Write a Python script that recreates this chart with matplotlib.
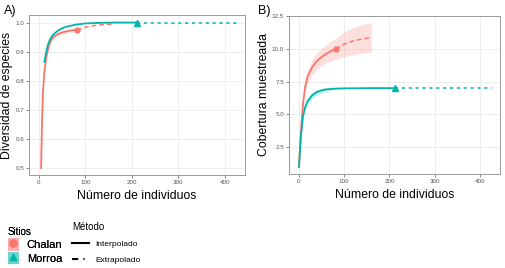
import matplotlib.pyplot as plt
from matplotlib.lines import Line2D
from matplotlib.patches import Patch

# colores de los sitios
col_chalan = '#F8766D'
col_morroa = '#00B5AA'

# ---- Panel A: diversidad de especies ----
a_ch_x = [5, 7, 9, 12, 16, 20, 25, 30, 40, 50, 60, 70, 82]
a_ch_y = [0.5, 0.66, 0.76, 0.83, 0.88, 0.91, 0.935, 0.948, 0.96, 0.966, 0.97, 0.973, 0.975]
a_ch_ex_x = [82, 100, 120, 140, 160]
a_ch_ex_y = [0.975, 0.984, 0.99, 0.993, 0.995]

a_mo_x = [12, 16, 20, 25, 30, 40, 50, 60, 80, 100, 130, 160, 212]
a_mo_y = [0.865, 0.9, 0.925, 0.945, 0.957, 0.971, 0.98, 0.986, 0.993, 0.997, 0.999, 1.0, 1.0]
a_mo_ex_x = [212, 300, 425]
a_mo_ex_y = [1.0, 1.0, 1.0]

# ---- Panel B: cobertura muestreada ----
b_ch_x = [1, 5, 10, 15, 20, 30, 40, 50, 60, 70, 82]
b_ch_y = [1.0, 3.6, 5.9, 7.2, 7.9, 8.6, 9.05, 9.35, 9.6, 9.8, 10.0]
b_ch_lo = [1.0, 3.4, 5.5, 6.7, 7.4, 8.0, 8.4, 8.7, 8.9, 9.05, 9.2]
b_ch_hi = [1.0, 3.8, 6.3, 7.7, 8.4, 9.2, 9.7, 10.0, 10.3, 10.55, 10.8]
b_ch_ex_x = [82, 100, 120, 140, 160]
b_ch_ex_y = [10.0, 10.35, 10.6, 10.75, 10.85]
b_ch_ex_lo = [9.2, 9.4, 9.55, 9.65, 9.75]
b_ch_ex_hi = [10.8, 11.3, 11.6, 11.85, 12.0]

b_mo_x = [1, 5, 10, 15, 20, 30, 40, 50, 60, 80, 100, 130, 160, 212]
b_mo_y = [1.0, 3.3, 4.9, 5.6, 6.0, 6.45, 6.7, 6.82, 6.9, 6.96, 6.98, 6.99, 7.0, 7.0]
b_mo_lo = [1.0, 3.2, 4.7, 5.35, 5.75, 6.2, 6.5, 6.65, 6.78, 6.9, 6.95, 6.98, 6.99, 7.0]
b_mo_hi = [1.0, 3.4, 5.1, 5.85, 6.25, 6.7, 6.9, 6.99, 7.02, 7.02, 7.01, 7.0, 7.0, 7.0]
b_mo_ex_x = [212, 300, 425]
b_mo_ex_y = [7.0, 7.0, 7.0]

a_yticks = [0.5, 0.6, 0.7, 0.8, 0.9, 1.0]
b_yticks = [2.5, 5.0, 7.5, 10.0, 12.5]
xticks = [0, 100, 200, 300, 400]

plt.rcParams['font.family'] = ['Liberation Sans', 'DejaVu Sans']

fig = plt.figure(figsize=(5.06, 2.68), dpi=100)
W, H = 506, 268
axA = fig.add_axes([29 / W, 1 - 175 / H, 216 / W, 160 / H])
axB = fig.add_axes([289 / W, 1 - 174 / H, 211 / W, 158 / H])


def estilo(ax):
    ax.set_facecolor('white')
    ax.grid(True, color='#EBEBEB', lw=0.6)
    ax.set_axisbelow(True)
    for s in ax.spines.values():
        s.set_color('#9A9A9A')
        s.set_linewidth(0.7)
    ax.tick_params(labelsize=4.5, colors='#555555', length=2, width=0.5, pad=1.5)
    ax.set_xticks(xticks)
    ax.set_xlim(-21, 443)


# Panel A
estilo(axA)
axA.fill_between(a_ch_x, [v - 0.006 for v in a_ch_y], [v + 0.006 for v in a_ch_y],
                 color=col_chalan, alpha=0.2, lw=0)
axA.plot(a_ch_x, a_ch_y, color=col_chalan, lw=1.3)
axA.plot(a_ch_ex_x, a_ch_ex_y, color=col_chalan, lw=1.1, ls=(0, (3, 2)))
axA.plot(a_ch_x[-1], a_ch_y[-1], 'o', color=col_chalan, ms=3.5)
axA.plot(a_mo_x, a_mo_y, color=col_morroa, lw=1.3)
axA.plot(a_mo_ex_x, a_mo_ex_y, color=col_morroa, lw=1.1, ls=(0, (2, 2.5)))
axA.plot(a_mo_x[-1], a_mo_y[-1], '^', color=col_morroa, ms=4)
axA.set_yticks(a_yticks)
axA.set_yticklabels(['0.5', '0.6', '0.7', '0.8', '0.9', '1.0'])
axA.set_ylim(0.476, 1.026)
axA.set_xlabel('Número de individuos', fontsize=8.8, labelpad=4)
axA.set_ylabel('Diversidad de especies', fontsize=8.8, labelpad=1.5)

# Panel B
estilo(axB)
axB.fill_between(b_ch_x, b_ch_lo, b_ch_hi, color=col_chalan, alpha=0.22, lw=0)
axB.fill_between(b_ch_ex_x, b_ch_ex_lo, b_ch_ex_hi, color=col_chalan, alpha=0.22, lw=0)
axB.fill_between(b_mo_x, b_mo_lo, b_mo_hi, color='#00C8D0', alpha=0.25, lw=0)
axB.plot(b_ch_x, b_ch_y, color=col_chalan, lw=1.3)
axB.plot(b_ch_ex_x, b_ch_ex_y, color=col_chalan, lw=1.1, ls=(0, (3, 2)))
axB.plot(b_ch_x[-1], b_ch_y[-1], 'o', color=col_chalan, ms=3.5)
axB.plot(b_mo_x, b_mo_y, color=col_morroa, lw=1.3)
axB.plot(b_mo_ex_x, b_mo_ex_y, color=col_morroa, lw=1.1, ls=(0, (2, 2.5)))
axB.plot(b_mo_x[-1], b_mo_y[-1], '^', color=col_morroa, ms=4)
axB.set_yticks(b_yticks)
axB.set_yticklabels(['2.5', '5.0', '7.5', '10.0', '12.5'])
axB.set_ylim(0.45, 12.5)
axB.set_xlabel('Número de individuos', fontsize=8.8, labelpad=4)
axB.set_ylabel('Cobertura muestreada', fontsize=8.8, labelpad=1.5)

fig.text(4 / W, 1 - 14 / H, 'A)', fontsize=9)
fig.text(258 / W, 1 - 14 / H, 'B)', fontsize=9)

# Leyendas
h_sitios = [
    (Patch(facecolor=col_chalan, alpha=0.35), Line2D([], [], marker='o', color=col_chalan, ls='', ms=5)),
    (Patch(facecolor=col_morroa, alpha=0.35), Line2D([], [], marker='^', color=col_morroa, ls='', ms=5)),
]
leg1 = fig.legend(h_sitios, ['Chalan', 'Morroa'], loc='upper left',
                  bbox_to_anchor=(0 / W, 1 - 219 / H), frameon=False, fontsize=8,
                  title='Sitios', title_fontsize=7, alignment='left',
                  handlelength=1.0, handleheight=1.3, handletextpad=0.7,
                  labelspacing=0.15, borderpad=0.2)
h_metodo = [Line2D([], [], color='black', lw=1.5),
            Line2D([], [], color='black', lw=1.5, ls=(0, (3, 2.5, 0.6, 2.5)))]
fig.legend(h_metodo, ['Interpolado', 'Extrapolado'], loc='upper left',
           bbox_to_anchor=(66 / W, 1 - 216 / H), frameon=False, fontsize=6,
           title='Método', title_fontsize=7, alignment='left',
           handlelength=2.0, handletextpad=0.8, labelspacing=1.0, borderpad=0.2)
fig.add_artist(leg1)

fig.savefig('out.png', dpi=100)
